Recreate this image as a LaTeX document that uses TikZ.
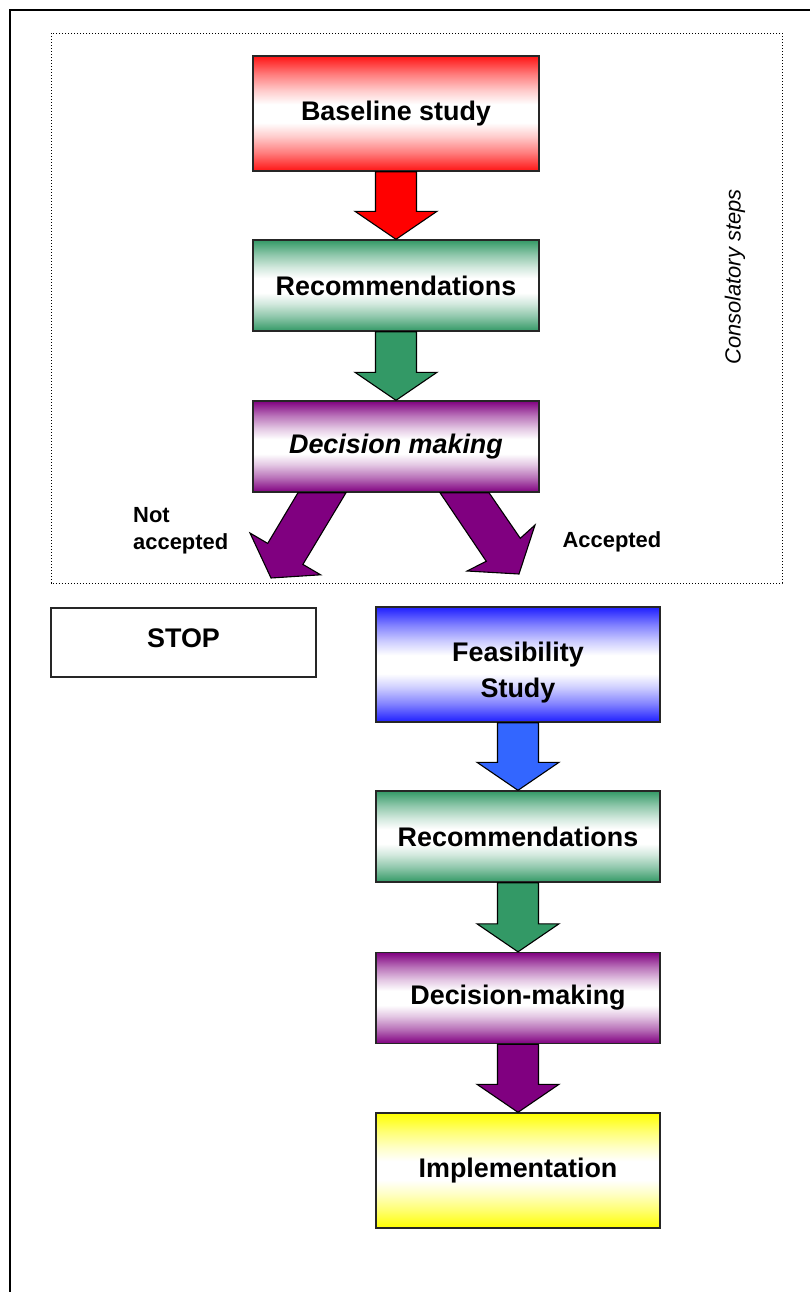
\documentclass[tikz,border=0pt]{standalone}
\usepackage{fontspec}
\setmainfont{Liberation Sans}
\usetikzlibrary{calc}
\definecolor{cred}{RGB}{255,20,20}
\definecolor{cgreen}{RGB}{51,153,102}
\definecolor{cpurple}{RGB}{128,0,128}
\definecolor{cblue}{RGB}{30,30,255}
\definecolor{cblue2}{RGB}{51,102,255}
\definecolor{cyellow}{RGB}{255,255,0}
\newcommand\mkgrad[2]{%
  \pgfdeclareverticalshading{#1}{100bp}{color(0bp)=(#2); color(25bp)=(#2);
    color(33bp)=(#2!55); color(40bp)=(#2!22); color(46bp)=(white); color(54bp)=(white);
    color(60bp)=(#2!22); color(67bp)=(#2!55); color(75bp)=(#2); color(100bp)=(#2)}}
\mkgrad{gred}{cred}
\mkgrad{ggreen}{cgreen}
\mkgrad{gpurple}{cpurple}
\mkgrad{gblue}{cblue}
\mkgrad{gyellow}{cyellow}
\tikzset{
  box/.style={draw=black!85, line width=1.4bp, inner sep=0pt, align=center,
    font=\bfseries\fontsize{27}{33}\selectfont},
  topbox/.style={box, minimum width=286bp},
  lowbox/.style={box, minimum width=284bp},
  tallbox/.style={minimum height=115bp},
  shortbox/.style={minimum height=91bp},
  grad/.style={shading=#1},
  arrowline/.style={draw=black, line width=1.1bp, line join=miter},
  lbl/.style={font=\bfseries\fontsize{22}{27}\selectfont, inner sep=0pt}
}
\newcommand\blockdown[3]{%
  \filldraw[arrowline, fill=#1]
    ($(#2.south)+(-20.5,0)$) -- ($(#3.north)+(-20.5,-28)$) --
    ($(#3.north)+(-41,-28)$) -- (#3.north) --
    ($(#3.north)+(41,-28)$) -- ($(#3.north)+(20.5,-28)$) --
    ($(#2.south)+(20.5,0)$) -- cycle;}
\begin{document}
\begin{tikzpicture}[x=1bp,y=-1bp]
\useasboundingbox (0,0) rectangle (810,1292);
% outer frame
\draw[line width=1.6bp] (10,1292) -- (10,10) -- (810,10);
% dotted frame
\draw[line width=0.9bp, dash pattern=on 1.1bp off 1.9bp] (51,33) rectangle (782,583);
\node[rotate=90, font=\itshape\fontsize{22}{26}\selectfont] (cons) at (735,277) {Consolatory steps};

% upper column
\node[topbox, tallbox, grad=gred] (bs) at (396,113.5) {Baseline study};
\node[topbox, shortbox, grad=ggreen] (rec1) at (396,285.5) {Recommendations};
\node[topbox, shortbox, grad=gpurple, font=\bfseries\itshape\fontsize{27}{33}\selectfont] (dm1) at (396,446.5) {Decision making};

\blockdown{red}{bs}{rec1}
\blockdown{cgreen}{rec1}{dm1}

% diagonal arrows
\coordinate (natip) at (271,578);
\coordinate (actip) at (519,574);
\filldraw[arrowline, fill=cpurple]
  ($(dm1.south)+(-98,0)$) -- (267.7,543.4) -- (250,533) -- (natip) --
  (320.6,574.8) -- (302.9,564.4) -- ($(dm1.south)+(-50,0)$) -- cycle;
\filldraw[arrowline, fill=cpurple]
  ($(dm1.south)+(44,0)$) -- (486.3,561.3) -- (467,571) -- (actip) --
  (535,525) -- (520.3,538.3) -- ($(dm1.south)+(93,0)$) -- cycle;

\node[lbl, align=left, anchor=west] (nacc) at (133,531) {Not\\accepted};
\node[lbl] (acc) at (612,542) {Accepted};

% STOP
\node[box, minimum width=265bp, minimum height=69bp, fill=white] (stop) at (183.5,642.5) {\raisebox{9bp}{STOP}};

% lower column
\node[lowbox, tallbox, grad=gblue] (fs) at (518,664.5) {};
\node[align=center, inner sep=0pt, font=\bfseries\fontsize{27}{36}\selectfont] (fstext) at ($(fs.center)+(0,8)$) {Feasibility\\Study};
\node[lowbox, shortbox, grad=ggreen] (rec2) at (518,836.5) {Recommendations};
\node[lowbox, shortbox, grad=gpurple] (dm2) at (518,998) {Decision-making};
\node[lowbox, tallbox, grad=gyellow] (impl) at (518,1170.5) {Implementation};

\blockdown{cblue2}{fs}{rec2}
\blockdown{cgreen}{rec2}{dm2}
\blockdown{cpurple}{dm2}{impl}
\end{tikzpicture}
\end{document}
